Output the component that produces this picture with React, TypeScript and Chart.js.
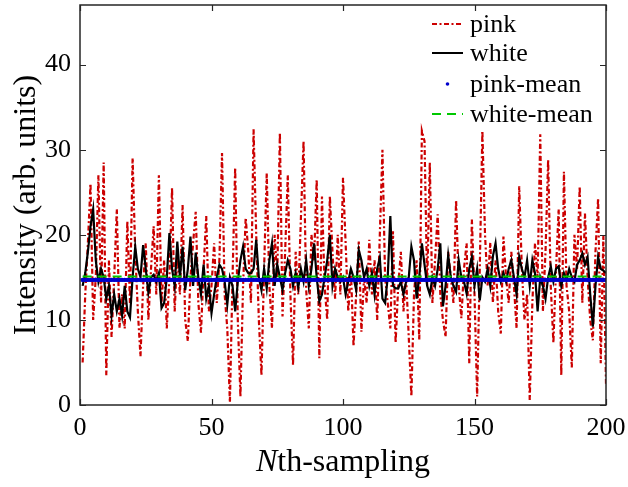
import React, { useEffect, useRef } from "react";
import { Chart, registerables } from "chart.js";

Chart.register(...registerables);

// ---------- data ----------
const pinkValues = [
  5, 13, 19, 26, 10, 15, 27, 12, 28.5, 3.5,
  17, 8, 15, 23, 9, 13, 9, 21.6, 12, 29,
  18, 11, 5.7, 14, 19, 10, 16, 21, 13, 27,
  12, 17, 9, 15, 25.5, 11, 18, 13, 23.5, 10,
  7.5, 15, 19, 22.7, 12, 8.5, 16, 22.2, 11, 14,
  19, 12, 17, 29.6, 13, 9, 0.3, 15, 27.9, 10,
  1, 14, 22, 18, 12, 32.4, 20, 10, 3.5, 16,
  27.3, 14, 9, 20, 15, 32, 10.4, 18, 27, 13,
  4.7, 18, 13, 22, 31, 13.5, 9, 20, 17, 26.5,
  5.5, 24.5, 14, 10, 24.5, 18, 12.5, 20, 13, 26.7,
  19, 11, 16, 6.9, 13, 19.2, 8.6, 15, 12, 19.4,
  13, 17, 10, 20, 30, 15, 12, 9, 20.4, 7.3,
  14, 18, 11, 15, 8, 1, 13, 17, 7.6, 32.2,
  31, 14, 28.5, 12, 17, 22.4, 13, 10, 8, 18,
  15, 12, 24.1, 14, 10.2, 16, 19, 4.9, 21.8, 13,
  1, 16, 32.2, 20, 14, 19.1, 12, 17, 11, 8.4,
  19.8, 15, 12, 18, 14, 9, 25.7, 16, 10, 13,
  0.6, 12, 19, 15, 31.8, 11, 18, 28.8, 14, 7.3,
  16, 23, 3.5, 27.4, 14, 11, 4.4, 20, 16, 25.7,
  12, 22.5, 15, 10, 7.6, 18, 24.3, 4.9, 20, 2.5,
];

const whiteValues = [
  14, 15.5, 18, 21, 23, 17, 14.5, 16, 15, 12.5,
  14, 10.5, 13, 11, 12.5, 10.5, 14, 11, 10.3, 15,
  18.6, 16, 15, 18.8, 16, 13.2, 15, 15.3, 14.5, 15.5,
  11.4, 12, 15, 20.2, 16, 14, 19.2, 15, 18.6, 13.5,
  16, 19.8, 14, 17.9, 15, 13, 16.5, 12.5, 14, 10.8,
  13, 15, 16.5, 16, 14.5, 11.8, 15, 14, 11, 14.5,
  17, 18.6, 16, 15.5, 15.5, 16, 19.4, 15, 13.5, 16,
  13.7, 17, 19, 14, 16.5, 15, 13.5, 15.5, 17, 16,
  14, 15.5, 13.8, 16, 14.5, 17, 14, 16, 19, 15,
  12.2, 13, 15, 17, 20, 14, 16, 15, 14.5, 15,
  13, 14.5, 16, 15, 13.5, 18.2, 17, 15, 16, 14,
  15.5, 13, 16, 17.3, 12.5, 12, 15, 22.2, 14, 13.7,
  13.7, 14.5, 13, 14.5, 15, 18.6, 17, 12.5, 15, 19,
  16.5, 14, 13, 15, 14, 16, 19, 11.6, 14, 17.6,
  15, 14, 13.3, 17, 15, 14.5, 13.1, 16, 17.4, 14,
  16, 12.3, 15, 14.5, 16, 14, 17.5, 19, 16, 14.5,
  15.5, 14.5, 16, 17, 15, 13, 17.4, 16, 15, 17,
  14, 17, 15.5, 11, 15, 14, 12.5, 15, 16.3, 14.5,
  16, 16.3, 14, 15.5, 14.7, 16, 15, 14.5, 16.5, 17,
  17.8, 16.5, 17.4, 13, 9.2, 14, 17.4, 16, 15.8, 15.5,
];

const pinkMean = 14.7;
const whiteMean = 15.1;

const xTicks = [0, 50, 100, 150, 200];
const yTicks = [0, 10, 20, 30, 40];
const xMin = 0;
const xMax = 200;
const yMin = 0;
const yMax = 47;

const legendLabels = ["pink", "white", "pink-mean", "white-mean"];
const xTitleItalic = "N";
const xTitleRest = "th-sampling";
const yTitle = "Intensity (arb. units)";

// ---------- styles ----------
const SERIF = '"Liberation Serif", "Times New Roman", serif';
const PINK_COLOR = "#CC0000";
const WHITE_COLOR = "#000000";
const PMEAN_COLOR = "#0000CC";
const WMEAN_COLOR = "#00C800";
const PINK_DASH = [5, 2.5, 2, 2.5];
const WMEAN_DASH = [9, 6];

const decorPlugin = {
  id: "decor",
  afterDatasetsDraw(chart: any) {
    const { ctx, chartArea, scales } = chart;
    const { left, right, top, bottom } = chartArea;
    const xs = scales.x;
    const ys = scales.y;
    ctx.save();
    // box
    ctx.strokeStyle = "#262626";
    ctx.lineWidth = 1.5;
    ctx.setLineDash([]);
    ctx.strokeRect(left, top, right - left, bottom - top);
    // inward ticks
    const tl = 6;
    ctx.beginPath();
    xTicks.forEach((v) => {
      const px = Math.round(xs.getPixelForValue(v)) + 0.5;
      ctx.moveTo(px, bottom);
      ctx.lineTo(px, bottom - tl);
      ctx.moveTo(px, top);
      ctx.lineTo(px, top + tl);
    });
    yTicks.forEach((v) => {
      const py = Math.round(ys.getPixelForValue(v)) + 0.5;
      ctx.moveTo(left, py);
      ctx.lineTo(left + tl, py);
      ctx.moveTo(right, py);
      ctx.lineTo(right - tl, py);
    });
    ctx.lineWidth = 1.2;
    ctx.stroke();

    // x title
    ctx.fillStyle = "#000";
    ctx.textBaseline = "middle";
    const xf = 32;
    ctx.font = `italic ${xf}px ${SERIF}`;
    const wN = ctx.measureText(xTitleItalic).width;
    ctx.font = `${xf}px ${SERIF}`;
    const wR = ctx.measureText(xTitleRest).width;
    const cx = (left + right) / 2;
    const startX = cx - (wN + wR) / 2;
    ctx.textAlign = "left";
    ctx.font = `italic ${xf}px ${SERIF}`;
    ctx.fillText(xTitleItalic, startX, 463);
    ctx.font = `${xf}px ${SERIF}`;
    ctx.fillText(xTitleRest, startX + wN, 463);

    // y title
    ctx.save();
    ctx.translate(27, (top + bottom) / 2);
    ctx.rotate(-Math.PI / 2);
    ctx.textAlign = "center";
    ctx.font = `32px ${SERIF}`;
    ctx.fillText(yTitle, 0, 0);
    ctx.restore();

    // legend
    const rowsY = [24, 53, 84, 114];
    const sx0 = 432;
    const sx1 = 463;
    const tx = 470;
    ctx.font = `26px ${SERIF}`;
    ctx.textAlign = "left";
    ctx.textBaseline = "middle";
    legendLabels.forEach((lab, i) => {
      const y = rowsY[i];
      ctx.save();
      if (i === 0) {
        ctx.strokeStyle = PINK_COLOR;
        ctx.lineWidth = 2;
        ctx.setLineDash(PINK_DASH);
        ctx.beginPath();
        ctx.moveTo(sx0, y);
        ctx.lineTo(sx1, y);
        ctx.stroke();
      } else if (i === 1) {
        ctx.strokeStyle = WHITE_COLOR;
        ctx.lineWidth = 2;
        ctx.beginPath();
        ctx.moveTo(sx0, y);
        ctx.lineTo(sx1, y);
        ctx.stroke();
      } else if (i === 2) {
        ctx.fillStyle = PMEAN_COLOR;
        ctx.beginPath();
        ctx.arc((sx0 + sx1) / 2, y, 1.8, 0, Math.PI * 2);
        ctx.fill();
      } else {
        ctx.strokeStyle = WMEAN_COLOR;
        ctx.lineWidth = 2;
        ctx.setLineDash(WMEAN_DASH);
        ctx.beginPath();
        ctx.moveTo(sx0, y);
        ctx.lineTo(sx1, y);
        ctx.stroke();
      }
      ctx.restore();
      ctx.fillStyle = "#000";
      ctx.fillText(lab, tx, y + 1);
    });
    ctx.restore();
  },
};

export default function App() {
  const canvasRef = useRef<HTMLCanvasElement | null>(null);

  useEffect(() => {
    document.body.style.margin = "0";
    const canvas = canvasRef.current;
    if (!canvas) return;

    const pinkData = pinkValues.map((v, i) => ({ x: i + 1, y: v }));
    const whiteData = whiteValues.map((v, i) => ({ x: i + 1, y: v }));
    const pinkMeanData = pinkValues.map((_, i) => ({ x: i + 1, y: pinkMean }));
    const whiteMeanData = whiteValues.map((_, i) => ({ x: i + 1, y: whiteMean }));

    const chart = new Chart(canvas, {
      type: "line",
      data: {
        datasets: [
          {
            label: legendLabels[0],
            data: pinkData,
            borderColor: PINK_COLOR,
            borderWidth: 2.2,
            borderDash: PINK_DASH,
            pointRadius: 0,
            tension: 0,
            order: 4,
          },
          {
            label: legendLabels[1],
            data: whiteData,
            borderColor: WHITE_COLOR,
            borderWidth: 2.2,
            pointRadius: 0,
            tension: 0,
            order: 3,
          },
          {
            label: legendLabels[2],
            data: pinkMeanData,
            showLine: false,
            pointRadius: 2.2,
            pointBorderWidth: 0,
            pointBackgroundColor: PMEAN_COLOR,
            borderColor: PMEAN_COLOR,
            order: 2,
          },
          {
            label: legendLabels[3],
            data: whiteMeanData,
            borderColor: WMEAN_COLOR,
            borderWidth: 2,
            borderDash: WMEAN_DASH,
            pointRadius: 0,
            order: 1,
          },
        ],
      },
      options: {
        responsive: false,
        animation: false,
        events: [],
        layout: { padding: { top: 5, right: 22, left: 0, bottom: 0 } },
        plugins: {
          legend: { display: false },
          tooltip: { enabled: false },
          title: { display: false },
        },
        scales: {
          x: {
            type: "linear",
            min: xMin,
            max: xMax,
            afterBuildTicks: (s: any) => {
              s.ticks = xTicks.map((v) => ({ value: v }));
            },
            afterFit: (s: any) => {
              s.height = 82;
              s.paddingLeft = 0;
              s.paddingRight = 0;
            },
            grid: { display: false, drawTicks: false },
            border: { display: false },
            ticks: {
              padding: 8,
              color: "#000",
              font: { family: SERIF, size: 26 },
              maxRotation: 0,
            },
          },
          y: {
            type: "linear",
            min: yMin,
            max: yMax,
            afterBuildTicks: (s: any) => {
              s.ticks = yTicks.map((v) => ({ value: v }));
            },
            afterFit: (s: any) => {
              s.width = 80;
              s.paddingTop = 0;
              s.paddingBottom = 0;
            },
            grid: { display: false, drawTicks: false },
            border: { display: false },
            ticks: {
              padding: 9,
              color: "#000",
              font: { family: SERIF, size: 26 },
            },
          },
        },
      },
      plugins: [decorPlugin],
    });

    return () => {
      chart.destroy();
    };
  }, []);

  return (
    <div style={{ width: 628, height: 487, background: "#fff" }}>
      <canvas ref={canvasRef} width={628} height={487} style={{ display: "block" }} />
    </div>
  );
}
